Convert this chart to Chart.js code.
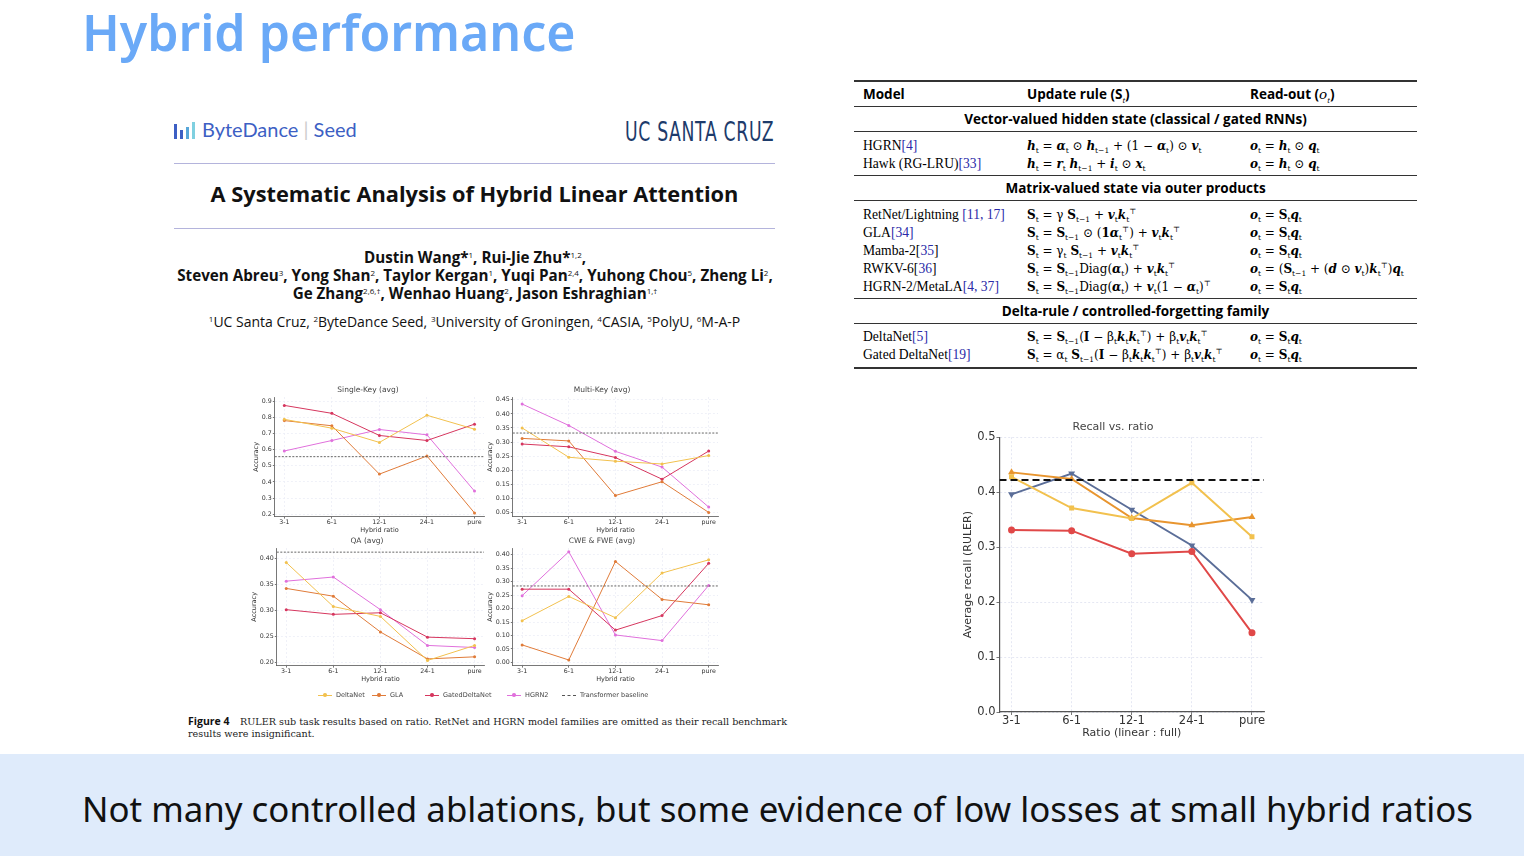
<!DOCTYPE html>
<html>
<head>
<meta charset="utf-8">
<script src="https://cdn.jsdelivr.net/npm/chart.js@4.4.0/dist/chart.umd.min.js"></script>
<style>
  body { margin: 0; width: 1524px; height: 856px; position: relative; background: #fff; overflow: hidden; font-family: "Noto Sans", sans-serif; }
  .abs { position: absolute; }
  canvas { position: absolute; }
  .slide-title { left: 82px; top: 4px; font-size: 50px; line-height: 56px; font-weight: 600; color: #6aa9f7; white-space: nowrap; }
  .band { left: 0; top: 754px; width: 1524px; height: 102px; background: #dfebfb; }
  .band-text { left: 82px; top: 785px; font-size: 34.85px; color: #111; white-space: nowrap; }
  .hr { height: 1px; background: #b4b4dc; }
  .paper { font-family: "Open Sans", sans-serif; color: #111; text-align: center; white-space: nowrap; }
  .paper sup { font-weight: 400; font-size: 8px; line-height: 0; vertical-align: 5px; }
  .rule { left: 854px; width: 563px; height: 1.4px; background: #333; }
  .cell { font-size: 12px; white-space: nowrap; line-height: 16px; }
  .hdr { font-family: "Open Sans", sans-serif; font-weight: 700; font-size: 13.5px; }
  .m { font-family: "DejaVu Serif", serif; font-size: 12px; }
  .m b { font-style: italic; }
  .m sub, .m sup { font-size: 7.5px; line-height: 0; }
  .ref { color: #2a2aa8; }
  .lg { font-family: "DejaVu Sans", sans-serif; font-size: 6.5px; color: #444; top: 691px; white-space: nowrap; }
  .sw { display: inline-block; width: 14px; height: 1px; vertical-align: middle; margin-right: 4px; position: relative; }
  .sw i { position: absolute; left: 5px; top: -1.5px; width: 3.5px; height: 3.5px; border-radius: 50%; }
  .cap { font-family: "DejaVu Serif", serif; font-size: 9.6px; color: #222; line-height: 12px; white-space: nowrap; }
</style>
</head>
<body>
<div class="abs slide-title">Hybrid performance</div>

<!-- paper header -->
<div class="abs" style="left:174px;top:121px;width:22px;height:18px;">
  <span class="abs" style="left:0;top:3px;width:3px;height:15px;background:#3d5fc4"></span>
  <span class="abs" style="left:6px;top:9px;width:3px;height:9px;background:#3d5fc4"></span>
  <span class="abs" style="left:12px;top:6px;width:3px;height:12px;background:#57a7d9"></span>
  <span class="abs" style="left:18px;top:1px;width:3px;height:17px;background:#7fd0e0"></span>
</div>
<div class="abs" style="left:202px;top:117px;font-family:Lato,sans-serif;font-size:20px;color:#3d5fc4;white-space:nowrap">ByteDance <span style="color:#ccc">|</span> Seed</div>
<div class="abs" style="left:625px;top:116px;font-family:'DejaVu Sans',sans-serif;font-size:27px;color:#1d3b6b;transform:scaleX(0.64);transform-origin:left top;white-space:nowrap;letter-spacing:1px">UC SANTA CRUZ</div>
<div class="abs hr" style="left:174px;top:163px;width:601px"></div>
<div class="abs hr" style="left:174px;top:228px;width:601px"></div>
<div class="abs paper" style="left:174px;top:179px;width:601px;font-size:21.8px;font-weight:700">A Systematic Analysis of Hybrid Linear Attention</div>
<div class="abs paper" style="left:140px;top:248px;width:670px;font-size:15.2px;font-weight:700;line-height:18px">
  Dustin Wang*<sup>1</sup>, Rui-Jie Zhu*<sup>1,2</sup>,<br>
  Steven Abreu<sup>3</sup>, Yong Shan<sup>2</sup>, Taylor Kergan<sup>1</sup>, Yuqi Pan<sup>2,4</sup>, Yuhong Chou<sup>5</sup>, Zheng Li<sup>2</sup>,<br>
  Ge Zhang<sup>2,6,†</sup>, Wenhao Huang<sup>2</sup>, Jason Eshraghian<sup>1,†</sup>
</div>
<div class="abs paper" style="left:174px;top:312px;width:601px;font-size:14px">
  <sup>1</sup>UC Santa Cruz, <sup>2</sup>ByteDance Seed, <sup>3</sup>University of Groningen, <sup>4</sup>CASIA, <sup>5</sup>PolyU, <sup>6</sup>M-A-P
</div>

<!-- small charts -->
<canvas id="skChart" width="240" height="152" style="left:248px;top:384px"></canvas>
<canvas id="mkChart" width="240" height="152" style="left:484px;top:384px"></canvas>
<canvas id="qaChart" width="240" height="150" style="left:248px;top:535px"></canvas>
<canvas id="cwChart" width="240" height="150" style="left:484px;top:535px"></canvas>

<div class="abs lg" style="left:318px"><span class="sw" style="background:#f2c14e"><i style="background:#f2c14e"></i></span>DeltaNet</div>
<div class="abs lg" style="left:372px"><span class="sw" style="background:#e07b39"><i style="background:#e07b39"></i></span>GLA</div>
<div class="abs lg" style="left:425px"><span class="sw" style="background:#d6365e"><i style="background:#d6365e"></i></span>GatedDeltaNet</div>
<div class="abs lg" style="left:507px"><span class="sw" style="background:#e070dc"><i style="background:#e070dc"></i></span>HGRN2</div>
<div class="abs lg" style="left:562px"><span class="sw" style="background:none;border-top:1px dashed #555;height:0"></span>Transformer baseline</div>

<div class="abs" style="left:188px;top:715px;font-family:'Open Sans',sans-serif;font-weight:700;font-size:10.5px;line-height:13px;color:#111">Figure 4</div>
<div class="abs cap" style="left:240px;top:716px">RULER sub task results based on ratio. RetNet and HGRN model families are omitted as their recall benchmark</div>
<div class="abs cap" style="left:188px;top:728px">results were insignificant.</div>

<!-- table -->
<div class="abs rule" style="top:80px;height:1.8px"></div>
<div class="abs rule" style="top:106px"></div>
<div class="abs rule" style="top:131px"></div>
<div class="abs rule" style="top:175px"></div>
<div class="abs rule" style="top:200px"></div>
<div class="abs rule" style="top:298px"></div>
<div class="abs rule" style="top:323px"></div>
<div class="abs rule" style="top:367px;height:1.8px"></div>
<div id="tbl"></div>

<!-- main chart -->
<canvas id="recallChart" width="330" height="335" style="left:958px;top:421px"></canvas>

<div class="abs band"></div>
<div class="abs band-text">Not many controlled ablations, but some evidence of low losses at small hybrid ratios</div>

<script>
"use strict";

// categories
const ratios = ["3-1", "6-1", "12-1", "24-1", "pure"];

// Recall vs. ratio (main chart)
const recallBlue = [0.396, 0.434, 0.368, 0.303, 0.204];
const recallOrange = [0.436, 0.424, 0.353, 0.340, 0.355];
const recallYellow = [0.428, 0.371, 0.352, 0.417, 0.319];
const recallRed = [0.331, 0.330, 0.288, 0.292, 0.144];
const recallBaseline = 0.422;
const recallTicks = [0, 0.1, 0.2, 0.3, 0.4, 0.5];

// Figure 4 sub tasks
const singleKeyDeltaNet = [0.787, 0.732, 0.644, 0.812, 0.726];
const singleKeyGLA = [0.779, 0.747, 0.448, 0.560, 0.208];
const singleKeyGated = [0.873, 0.824, 0.687, 0.656, 0.757];
const singleKeyHGRN2 = [0.591, 0.656, 0.724, 0.691, 0.343];
const singleKeyBaseline = 0.556;
const singleKeyTicks = [0.2, 0.3, 0.4, 0.5, 0.6, 0.7, 0.8, 0.9];

const multiKeyDeltaNet = [0.350, 0.246, 0.232, 0.222, 0.252];
const multiKeyGLA = [0.313, 0.304, 0.110, 0.159, 0.050];
const multiKeyGated = [0.293, 0.283, 0.245, 0.168, 0.268];
const multiKeyHGRN2 = [0.435, 0.359, 0.267, 0.211, 0.069];
const multiKeyBaseline = 0.332;
const multiKeyTicks = [0.05, 0.10, 0.15, 0.20, 0.25, 0.30, 0.35, 0.40, 0.45];

const qaDeltaNet = [0.392, 0.307, 0.288, 0.203, 0.232];
const qaGLA = [0.342, 0.327, 0.258, 0.206, 0.210];
const qaGated = [0.301, 0.292, 0.295, 0.248, 0.245];
const qaHGRN2 = [0.356, 0.364, 0.301, 0.232, 0.228];
const qaBaseline = 0.412;
const qaTicks = [0.20, 0.25, 0.30, 0.35, 0.40];

const cweDeltaNet = [0.155, 0.245, 0.166, 0.332, 0.381];
const cweGLA = [0.065, 0.009, 0.375, 0.234, 0.214];
const cweGated = [0.272, 0.272, 0.120, 0.174, 0.368];
const cweHGRN2 = [0.248, 0.411, 0.102, 0.081, 0.286];
const cweBaseline = 0.284;
const cweTicks = [0.00, 0.05, 0.10, 0.15, 0.20, 0.25, 0.30, 0.35, 0.40];

// table rows: y, model, update rule, read-out
const b = (s) => `<b>${s}</b>`;
const S = "<strong>S</strong>";
const tableRows = [
  [146, 'HGRN<span class="ref">[4]</span>', `${b("h")}<sub>t</sub> = ${b("α")}<sub>t</sub> ⊙ ${b("h")}<sub>t−1</sub> + (1 − ${b("α")}<sub>t</sub>) ⊙ ${b("v")}<sub>t</sub>`, `${b("o")}<sub>t</sub> = ${b("h")}<sub>t</sub> ⊙ ${b("q")}<sub>t</sub>`],
  [164, 'Hawk (RG-LRU)<span class="ref">[33]</span>', `${b("h")}<sub>t</sub> = ${b("r")}<sub>t</sub> ${b("h")}<sub>t−1</sub> + ${b("i")}<sub>t</sub> ⊙ ${b("x")}<sub>t</sub>`, `${b("o")}<sub>t</sub> = ${b("h")}<sub>t</sub> ⊙ ${b("q")}<sub>t</sub>`],
  [215, 'RetNet/Lightning <span class="ref">[11, 17]</span>', `${S}<sub>t</sub> = γ ${S}<sub>t−1</sub> + ${b("v")}<sub>t</sub>${b("k")}<sub>t</sub><sup>⊤</sup>`, `${b("o")}<sub>t</sub> = ${S}<sub>t</sub>${b("q")}<sub>t</sub>`],
  [233, 'GLA<span class="ref">[34]</span>', `${S}<sub>t</sub> = ${S}<sub>t−1</sub> ⊙ (<strong>1</strong>${b("α")}<sub>t</sub><sup>⊤</sup>) + ${b("v")}<sub>t</sub>${b("k")}<sub>t</sub><sup>⊤</sup>`, `${b("o")}<sub>t</sub> = ${S}<sub>t</sub>${b("q")}<sub>t</sub>`],
  [251, 'Mamba-2[<span class="ref">35</span>]', `${S}<sub>t</sub> = γ<sub>t</sub> ${S}<sub>t−1</sub> + ${b("v")}<sub>t</sub>${b("k")}<sub>t</sub><sup>⊤</sup>`, `${b("o")}<sub>t</sub> = ${S}<sub>t</sub>${b("q")}<sub>t</sub>`],
  [269, 'RWKV-6[<span class="ref">36</span>]', `${S}<sub>t</sub> = ${S}<sub>t−1</sub>Diag(${b("α")}<sub>t</sub>) + ${b("v")}<sub>t</sub>${b("k")}<sub>t</sub><sup>⊤</sup>`, `${b("o")}<sub>t</sub> = (${S}<sub>t−1</sub> + (${b("d")} ⊙ ${b("v")}<sub>t</sub>)${b("k")}<sub>t</sub><sup>⊤</sup>)${b("q")}<sub>t</sub>`],
  [287, 'HGRN-2/MetaLA<span class="ref">[4, 37]</span>', `${S}<sub>t</sub> = ${S}<sub>t−1</sub>Diag(${b("α")}<sub>t</sub>) + ${b("v")}<sub>t</sub>(1 − ${b("α")}<sub>t</sub>)<sup>⊤</sup>`, `${b("o")}<sub>t</sub> = ${S}<sub>t</sub>${b("q")}<sub>t</sub>`],
  [337, 'DeltaNet<span class="ref">[5]</span>', `${S}<sub>t</sub> = ${S}<sub>t−1</sub>(<strong>I</strong> − β<sub>t</sub>${b("k")}<sub>t</sub>${b("k")}<sub>t</sub><sup>⊤</sup>) + β<sub>t</sub>${b("v")}<sub>t</sub>${b("k")}<sub>t</sub><sup>⊤</sup>`, `${b("o")}<sub>t</sub> = ${S}<sub>t</sub>${b("q")}<sub>t</sub>`],
  [355, 'Gated DeltaNet<span class="ref">[19]</span>', `${S}<sub>t</sub> = α<sub>t</sub> ${S}<sub>t−1</sub>(<strong>I</strong> − β<sub>t</sub>${b("k")}<sub>t</sub>${b("k")}<sub>t</sub><sup>⊤</sup>) + β<sub>t</sub>${b("v")}<sub>t</sub>${b("k")}<sub>t</sub><sup>⊤</sup>`, `${b("o")}<sub>t</sub> = ${S}<sub>t</sub>${b("q")}<sub>t</sub>`],
];
const tableSections = [
  [119, "Vector-valued hidden state (classical / gated RNNs)"],
  [188, "Matrix-valued state via outer products"],
  [311, "Delta-rule / controlled-forgetting family"],
];

const tbl = document.getElementById("tbl");
let html = "";
html += `<div class="abs cell hdr" style="left:863px;top:86px">Model</div>`;
html += `<div class="abs cell hdr" style="left:1027px;top:86px">Update rule (S<sub style="font-size:8px;font-weight:400;font-style:italic;line-height:0">t</sub>)</div>`;
html += `<div class="abs cell hdr" style="left:1250px;top:86px">Read-out (<i style="font-family:'DejaVu Serif';font-weight:400">o</i><sub style="font-size:8px;font-weight:400;font-style:italic;line-height:0">t</sub>)</div>`;
tableSections.forEach(([y, t]) => {
  html += `<div class="abs cell hdr" style="left:854px;width:563px;text-align:center;top:${y - 8}px">${t}</div>`;
});
tableRows.forEach(([y, model, rule, out]) => {
  html += `<div class="abs cell" style="left:863px;top:${y - 8}px;font-family:'Liberation Serif',serif;font-size:13.6px">${model}</div>`;
  html += `<div class="abs cell m" style="left:1027px;top:${y - 8}px">${rule}</div>`;
  html += `<div class="abs cell m" style="left:1250px;top:${y - 8}px">${out}</div>`;
});
tbl.innerHTML = html;

// chart helpers
Chart.defaults.font.family = "DejaVu Sans";
Chart.defaults.animation = false;

const xMin = -0.2, xMax = 4.2;
const toPoints = (arr) => arr.map((v, i) => ({ x: i, y: v }));
const flat = (v) => [{ x: xMin, y: v }, { x: xMax, y: v }];

function seriesDataset(values, color, shape, radius, width, rotation) {
  return {
    data: toPoints(values),
    borderColor: color,
    backgroundColor: color,
    borderWidth: width,
    pointStyle: shape,
    pointRadius: radius,
    pointRotation: rotation || 0,
    pointBorderWidth: 0,
  };
}

function baselineDataset(value, color, width, dash) {
  return {
    data: flat(value),
    borderColor: color,
    borderWidth: width,
    borderDash: dash,
    pointRadius: 0,
  };
}

function buildChart(id, cfg) {
  const f = cfg.font;
  return new Chart(document.getElementById(id), {
    type: "line",
    data: { datasets: cfg.datasets },
    options: {
      responsive: false,
      devicePixelRatio: 1,
      layout: { padding: cfg.padding },
      plugins: {
        legend: { display: false },
        tooltip: { enabled: false },
        title: {
          display: true, text: cfg.title, color: "#444",
          font: { size: f.title, weight: "normal" }, padding: { top: 0, bottom: cfg.titleGap },
        },
      },
      scales: {
        x: {
          type: "linear", min: xMin, max: xMax,
          afterBuildTicks: (s) => { s.ticks = ratios.map((r, i) => ({ value: i })); },
          ticks: { callback: (v) => ratios[v], color: "#333", font: { size: f.tick }, padding: f.xPad, maxRotation: 0 },
          grid: { color: cfg.gridColor, tickColor: "#555", tickLength: f.tickLen, lineWidth: 0.8 },
          border: { color: "#555", width: cfg.axisWidth, dash: [2, 2] },
          title: { display: true, text: cfg.xTitle, color: "#333", font: { size: f.axis }, padding: { top: 0, bottom: 0 } },
        },
        y: {
          type: "linear", min: cfg.yMin, max: cfg.yMax,
          afterBuildTicks: (s) => { s.ticks = cfg.ticks.map((v) => ({ value: v })); },
          ticks: { callback: (v) => v.toFixed(cfg.decimals), color: "#333", font: { size: f.tick }, padding: 1 },
          grid: { color: cfg.gridColor, tickColor: "#555", tickLength: f.tickLen, lineWidth: 0.8 },
          border: { color: "#555", width: cfg.axisWidth, dash: [2, 2] },
          title: { display: true, text: cfg.yTitle, color: "#333", font: { size: f.axis }, padding: { top: 0, bottom: 1 } },
        },
      },
    },
  });
}

// Recall vs. ratio
buildChart("recallChart", {
  title: "Recall vs. ratio",
  xTitle: "Ratio (linear : full)",
  yTitle: "Average recall (RULER)",
  yMin: 0, yMax: 0.5, ticks: recallTicks, decimals: 1,
  font: { title: 11, tick: 11.5, axis: 11, tickLen: 3, xPad: -1 },
  titleGap: 3, axisWidth: 1.2, gridColor: "#dfe1f0",
  padding: { left: 4, right: 24, top: 0, bottom: 16 },
  datasets: [
    baselineDataset(recallBaseline, "#111", 2, [7, 4]),
    seriesDataset(recallYellow, "#f2c14e", "rect", 3.5, 2),
    seriesDataset(recallOrange, "#e8952f", "triangle", 4, 2),
    seriesDataset(recallRed, "#e04848", "circle", 3.5, 2),
    seriesDataset(recallBlue, "#5b6e98", "triangle", 4, 2, 180),
  ],
});

const smallFont = { title: 7.5, tick: 6.3, axis: 6.5, tickLen: 2, xPad: 0 };
function smallDatasets(d, g, gd, h, base) {
  return [
    baselineDataset(base, "#555", 0.9, [2, 1.5]),
    seriesDataset(d, "#f2c14e", "circle", 1.5, 1),
    seriesDataset(g, "#e07b39", "circle", 1.5, 1),
    seriesDataset(gd, "#d6365e", "circle", 1.5, 1),
    seriesDataset(h, "#e070dc", "circle", 1.5, 1),
  ];
}

buildChart("skChart", {
  title: "Single-Key (avg)", xTitle: "Hybrid ratio", yTitle: "Accuracy",
  yMin: 0.185, yMax: 0.925, ticks: singleKeyTicks, decimals: 1,
  font: smallFont, titleGap: 2, axisWidth: 0.8, gridColor: "#eceef7",
  padding: { left: 4, right: 4, top: 2, bottom: 2 },
  datasets: smallDatasets(singleKeyDeltaNet, singleKeyGLA, singleKeyGated, singleKeyHGRN2, singleKeyBaseline),
});
buildChart("mkChart", {
  title: "Multi-Key (avg)", xTitle: "Hybrid ratio", yTitle: "Accuracy",
  yMin: 0.035, yMax: 0.46, ticks: multiKeyTicks, decimals: 2,
  font: smallFont, titleGap: 2, axisWidth: 0.8, gridColor: "#eceef7",
  padding: { left: 2, right: 6, top: 2, bottom: 2 },
  datasets: smallDatasets(multiKeyDeltaNet, multiKeyGLA, multiKeyGated, multiKeyHGRN2, multiKeyBaseline),
});
buildChart("qaChart", {
  title: "QA (avg)", xTitle: "Hybrid ratio", yTitle: "Accuracy",
  yMin: 0.193, yMax: 0.42, ticks: qaTicks, decimals: 2,
  font: smallFont, titleGap: 2, axisWidth: 0.8, gridColor: "#eceef7",
  padding: { left: 2, right: 4, top: 2, bottom: 2 },
  datasets: smallDatasets(qaDeltaNet, qaGLA, qaGated, qaHGRN2, qaBaseline),
});
buildChart("cwChart", {
  title: "CWE & FWE (avg)", xTitle: "Hybrid ratio", yTitle: "Accuracy",
  yMin: -0.012, yMax: 0.425, ticks: cweTicks, decimals: 2,
  font: smallFont, titleGap: 2, axisWidth: 0.8, gridColor: "#eceef7",
  padding: { left: 2, right: 6, top: 2, bottom: 2 },
  datasets: smallDatasets(cweDeltaNet, cweGLA, cweGated, cweHGRN2, cweBaseline),
});
</script>
</body>
</html>
